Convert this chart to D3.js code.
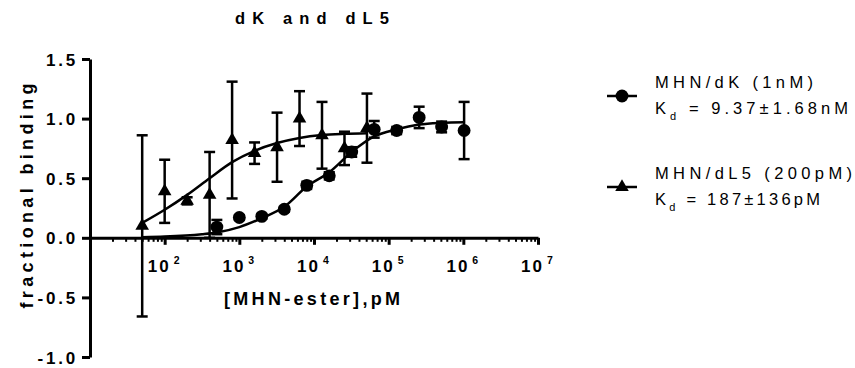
<!DOCTYPE html>
<html>
<head>
<meta charset="utf-8">
<script src="https://cdn.jsdelivr.net/npm/d3@7"></script>
<style>
  body { margin: 0; background: #fff; }
  svg { display: block; font-family: "Liberation Sans", Arial, sans-serif; }
</style>
</head>
<body>
<div id="container"></div>
<script>

// MHN/dK (1nM) : concentration in pM, mean and SEM
const dkConc = [500, 1000, 2000, 4000, 8000, 16000, 32000, 64000, 128000, 256000, 512000, 1024000];
const dkMean = [0.09, 0.17, 0.18, 0.24, 0.44, 0.52, 0.72, 0.91, 0.90, 1.01, 0.93, 0.90];
const dkSem  = [0.06, 0.02, 0.02, 0.02, 0.03, 0.03, 0.04, 0.07, 0.03, 0.09, 0.045, 0.24];

// MHN/dL5 (200pM)
const dl5Conc = [50, 100, 200, 400, 800, 1600, 3200, 6400, 12800, 25600, 51200];
const dl5Mean = [0.10, 0.39, 0.31, 0.36, 0.82, 0.71, 0.76, 1.00, 0.86, 0.75, 0.92];
const dl5Sem  = [0.76, 0.265, 0.03, 0.36, 0.49, 0.09, 0.29, 0.23, 0.28, 0.14, 0.29];

// fitted curves
const dkFitConc = [50, 100, 316, 500, 1000, 2000, 4000, 8000, 16000, 32000, 64000, 128000, 256000, 512000, 1024000];
const dkFitY    = [0.005, 0.01, 0.03, 0.045, 0.09, 0.165, 0.26, 0.43, 0.55, 0.72, 0.85, 0.91, 0.95, 0.965, 0.97];
const dl5FitConc = [50, 100, 200, 400, 800, 1600, 3200, 6400, 12800, 25600, 51200];
const dl5FitY    = [0.125, 0.235, 0.36, 0.50, 0.635, 0.73, 0.795, 0.838, 0.862, 0.872, 0.877];

const yTicks = [-1, -0.5, 0, 0.5, 1, 1.5];
const xLabelExps = [2, 3, 4, 5, 6, 7];

const titleText = "dK and dL5";
const xTitle = "[MHN-ester],pM";
const yTitle = "fractional binding";
const legendNames = ["MHN/dK (1nM)", "MHN/dL5 (200pM)"];
const legendKd = [" = 9.37±1.68nM", " = 187±136pM"];

function main() {
    const width = 855, height = 368;

    const svg = d3.select("#container")
        .append("svg")
        .attr("width", width)
        .attr("height", height);

    const x = d3.scaleLog().domain([10, 1e7]).range([90, 538]);
    const y = d3.scaleLinear().domain([-1, 1.5]).range([357, 59]);

    // title
    svg.append("text")
        .attr("x", 312).attr("y", 24)
        .attr("text-anchor", "middle")
        .attr("font-size", 16.5).attr("font-weight", "bold")
        .attr("textLength", 154).attr("lengthAdjust", "spacing")
        .text(titleText);

    // y axis
    const yAxis = svg.append("g")
        .attr("transform", "translate(90,0)")
        .call(d3.axisLeft(y).tickValues(yTicks).tickSize(8).tickSizeOuter(0).tickFormat(d => d.toFixed(1)));
    yAxis.select(".domain").attr("stroke-width", 3).attr("stroke", "#000");
    yAxis.selectAll(".tick line").attr("stroke-width", 3).attr("stroke", "#000");
    yAxis.selectAll(".tick text")
        .attr("x", -12)
        .attr("dy", null)
        .attr("y", 6)
        .attr("fill", "#000")
        .attr("font-family", "Liberation Sans, Arial, sans-serif")
        .attr("font-size", 17).attr("font-weight", "bold")
        .attr("letter-spacing", 2.8);

    // x axis at y = 0
    const isMajor = d => Number.isInteger(Math.round(Math.log10(d) * 1000) / 1000);
    const xAxis = svg.append("g")
        .attr("transform", `translate(0,${y(0)})`)
        .call(d3.axisBottom(x).tickValues(x.ticks()).tickSizeOuter(0).tickFormat(""));
    xAxis.select(".domain").attr("stroke-width", 3).attr("stroke", "#000");
    xAxis.selectAll(".tick line")
        .attr("stroke", "#000")
        .attr("y2", d => isMajor(d) ? 7 : 4)
        .attr("stroke-width", d => isMajor(d) ? 3 : 2);

    const xLab = svg.append("g").selectAll("text")
        .data(xLabelExps)
        .join("text")
        .attr("x", d => x(Math.pow(10, d)) - 1)
        .attr("y", y(0) + 34)
        .attr("text-anchor", "middle")
        .attr("font-weight", "bold")
        .attr("font-size", 17);
    xLab.append("tspan").attr("letter-spacing", 2).text("10");
    xLab.append("tspan").attr("font-size", 10.5).attr("dx", 3).attr("dy", -8).text(d => d);

    svg.append("text")
        .attr("x", 312).attr("y", 305)
        .attr("text-anchor", "middle")
        .attr("font-size", 18).attr("font-weight", "bold")
        .attr("textLength", 176).attr("lengthAdjust", "spacing")
        .text(xTitle);

    svg.append("text")
        .attr("transform", "translate(33,196) rotate(-90)")
        .attr("text-anchor", "middle")
        .attr("font-size", 18).attr("font-weight", "bold")
        .attr("textLength", 225).attr("lengthAdjust", "spacing")
        .text(yTitle);

    // fit curves
    const line = d3.line()
        .x(d => x(d[0]))
        .y(d => y(d[1]))
        .curve(d3.curveMonotoneX);

    svg.append("path")
        .datum(d3.zip(dl5FitConc, dl5FitY))
        .attr("fill", "none").attr("stroke", "#000").attr("stroke-width", 2.5)
        .attr("d", line);
    svg.append("path")
        .datum(d3.zip(dkFitConc, dkFitY))
        .attr("fill", "none").attr("stroke", "#000").attr("stroke-width", 2.5)
        .attr("d", line);

    const triangle = d3.symbol().type(d3.symbolTriangle).size(80);
    const circle = d3.symbol().type(d3.symbolCircle).size(130);

    function drawSeries(conc, mean, sem, symbol) {
        const data = d3.zip(conc, mean, sem);
        const g = svg.append("g");
        const eb = g.selectAll("g.eb").data(data).join("g").attr("stroke", "#000").attr("stroke-width", 2.5);
        eb.append("line")
            .attr("x1", d => x(d[0])).attr("x2", d => x(d[0]))
            .attr("y1", d => y(d[1] + d[2])).attr("y2", d => y(d[1] - d[2]));
        eb.append("line")
            .attr("x1", d => x(d[0]) - 5.5).attr("x2", d => x(d[0]) + 5.5)
            .attr("y1", d => y(d[1] + d[2])).attr("y2", d => y(d[1] + d[2]));
        eb.append("line")
            .attr("x1", d => x(d[0]) - 5.5).attr("x2", d => x(d[0]) + 5.5)
            .attr("y1", d => y(d[1] - d[2])).attr("y2", d => y(d[1] - d[2]));
        g.selectAll("path").data(data).join("path")
            .attr("transform", d => `translate(${x(d[0])},${y(d[1])})`)
            .attr("d", symbol)
            .attr("fill", "#000");
    }

    drawSeries(dl5Conc, dl5Mean, dl5Sem, triangle);
    drawSeries(dkConc, dkMean, dkSem, circle);

    // legend
    const legendY = [96, 187];
    const legendSymbols = [circle, triangle];
    const leg = svg.append("g").selectAll("g")
        .data(legendNames)
        .join("g")
        .attr("transform", (d, i) => `translate(0,${legendY[i]})`);
    leg.append("line")
        .attr("x1", 607).attr("x2", 637)
        .attr("stroke", "#000").attr("stroke-width", 2.5);
    leg.append("path")
        .attr("transform", "translate(622,0)")
        .attr("d", (d, i) => legendSymbols[i]())
        .attr("fill", "#000");
    leg.append("text")
        .attr("x", 655).attr("y", -8)
        .attr("font-size", 16.5)
        .attr("textLength", (d, i) => [158, 197][i]).attr("lengthAdjust", "spacing")
        .text(d => d);
    const kd = leg.append("text")
        .attr("x", 655).attr("y", 18)
        .attr("font-size", 16.5)
        .attr("textLength", (d, i) => [193, 165][i]).attr("lengthAdjust", "spacing");
    kd.append("tspan").text("K");
    kd.append("tspan").attr("font-size", 11).attr("dy", 6).text("d");
    kd.append("tspan").attr("dy", -6).text((d, i) => legendKd[i]);
}

main();
</script>
</body>
</html>
